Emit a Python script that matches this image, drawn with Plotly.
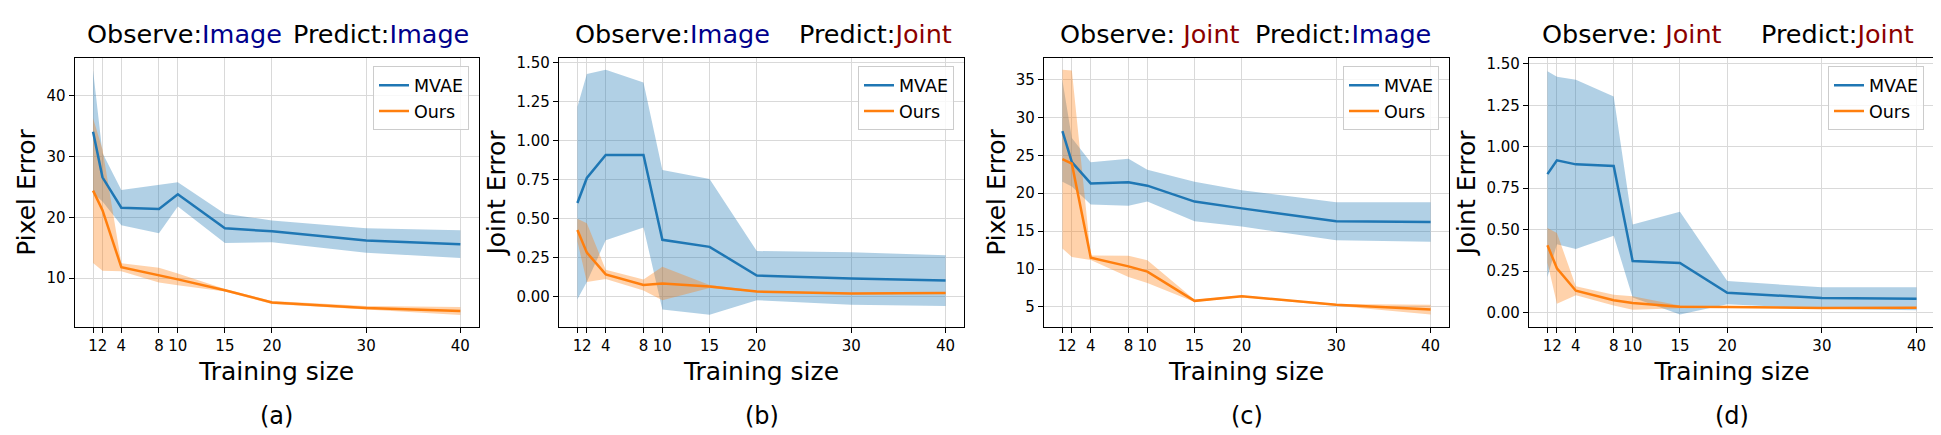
import plotly.graph_objects as go
from plotly.subplots import make_subplots

# training sizes shared by every panel
sizes = [1, 2, 4, 8, 10, 15, 20, 30, 40]

# (a) observe image, predict image
mvae_mean_a = [34.1, 26.6, 21.6, 21.4, 23.8, 18.2, 17.7, 16.2, 15.6]
mvae_std_a = [10.1, 4.0, 2.9, 4.0, 2.0, 2.4, 1.8, 2.0, 2.3]
ours_mean_a = [24.4, 21.2, 11.8, 10.5, 9.8, 8.0, 6.0, 5.1, 4.6]
ours_std_a = [11.9, 10.0, 0.65, 1.2, 0.95, 0.2, 0.25, 0.3, 0.65]

# (b) observe image, predict joint
mvae_mean_b = [0.60, 0.76, 0.907, 0.907, 0.365, 0.32, 0.136, 0.117, 0.104]
mvae_std_b = [0.615, 0.665, 0.545, 0.463, 0.446, 0.434, 0.157, 0.168, 0.162]
ours_mean_b = [0.428, 0.283, 0.144, 0.076, 0.086, 0.066, 0.034, 0.021, 0.025]
ours_std_b = [0.072, 0.188, 0.03, 0.035, 0.107, 0.01, 0.005, 0.004, 0.005]

# (c) observe joint, predict image
mvae_mean_c = [28.2, 24.1, 21.3, 21.45, 21.0, 18.9, 18.0, 16.3, 16.2]
mvae_std_c = [6.7, 3.2, 2.8, 3.1, 2.1, 2.6, 2.4, 2.5, 2.6]
ours_mean_c = [24.5, 23.9, 11.5, 10.35, 9.65, 5.8, 6.4, 5.3, 4.65]
ours_std_c = [11.8, 12.3, 0.3, 1.4, 1.5, 0.15, 0.1, 0.1, 0.65]

# (d) observe joint, predict joint
mvae_mean_d = [0.835, 0.918, 0.894, 0.884, 0.311, 0.299, 0.12, 0.088, 0.084]
mvae_std_d = [0.62, 0.505, 0.51, 0.42, 0.22, 0.31, 0.07, 0.065, 0.069]
ours_mean_d = [0.406, 0.267, 0.132, 0.075, 0.058, 0.035, 0.034, 0.028, 0.03]
ours_std_d = [0.105, 0.213, 0.027, 0.032, 0.04, 0.008, 0.004, 0.003, 0.003]

observe_labels = ["Image", "Image", "Joint", "Joint"]
predict_labels = ["Image", "Joint", "Image", "Joint"]
y_titles = ["Pixel Error", "Joint Error", "Pixel Error", "Joint Error"]
panel_tags = ["(a)", "(b)", "(c)", "(d)"]
y_ticks = [
    [10, 20, 30, 40],
    [0, 0.25, 0.5, 0.75, 1.0, 1.25, 1.5],
    [5, 10, 15, 20, 25, 30, 35],
    [0, 0.25, 0.5, 0.75, 1.0, 1.25, 1.5],
]

panels = [
    (mvae_mean_a, mvae_std_a, ours_mean_a, ours_std_a),
    (mvae_mean_b, mvae_std_b, ours_mean_b, ours_std_b),
    (mvae_mean_c, mvae_std_c, ours_mean_c, ours_std_c),
    (mvae_mean_d, mvae_std_d, ours_mean_d, ours_std_d),
]

W, H = 1941, 435
FONT = "DejaVu Sans"
BLUE = "#1f77b4"
ORANGE = "#ff7f0e"
WORD_COLOR = {"Image": "#00008b", "Joint": "#8b0000"}

# pixel positions of each axes box
x_px = [(66.7, 470.7), (551, 956), (1036, 1441), (1521, 1927)]
y_px = (46, 318.3)
y_ranges = [[1.9, 46.3], [-0.195, 1.53], [2.3, 37.9], [-0.089, 1.538]]
obs_left = [77, 565, 1050, 1532]
pred_right = [463, 946, 1425, 1908]
legend_right = [461, 946, 1431, 1916]
obs_sep = [":", ":", ": ", ": "]

fig = make_subplots(rows=1, cols=4)


def band(mean, std, sign):
    return [m + sign * s for m, s in zip(mean, std)]


for i, (mm, ms, om, os_) in enumerate(panels):
    col = i + 1
    leg = "legend" if i == 0 else "legend%d" % (i + 1)
    for mean, std, color, rgba in [(mm, ms, BLUE, "rgba(31,119,180,0.35)"),
                                   (om, os_, ORANGE, "rgba(255,127,14,0.35)")]:
        fig.add_trace(go.Scatter(x=sizes, y=band(mean, std, -1), mode="lines",
                                 line=dict(width=0, color=color), showlegend=False,
                                 hoverinfo="skip"), row=1, col=col)
        fig.add_trace(go.Scatter(x=sizes, y=band(mean, std, 1), mode="lines",
                                 line=dict(width=0, color=color), fill="tonexty",
                                 fillcolor=rgba, showlegend=False,
                                 hoverinfo="skip"), row=1, col=col)
    fig.add_trace(go.Scatter(x=sizes, y=mm, mode="lines", name="MVAE",
                             line=dict(color=BLUE, width=2.5), legend=leg), row=1, col=col)
    fig.add_trace(go.Scatter(x=sizes, y=om, mode="lines", name="Ours",
                             line=dict(color=ORANGE, width=2.5), legend=leg), row=1, col=col)

    x0, x1 = x_px[i]
    axis_common = dict(showline=True, linecolor="black", linewidth=1.2, mirror=True,
                       ticks="outside", tickcolor="black", ticklen=5, tickwidth=1,
                       showgrid=True, gridcolor="#d9d9d9", gridwidth=1, zeroline=False,
                       tickangle=0,
                       tickfont=dict(family=FONT, size=15, color="black"))
    fig.update_xaxes(domain=[x0 / W, x1 / W], range=[-0.95, 41.95],
                     tickvals=sizes, ticktext=[str(s) for s in sizes],
                     title=dict(text="Training size", standoff=8,
                                font=dict(family=FONT, size=25, color="black")),
                     row=1, col=col, **axis_common)
    fig.update_yaxes(domain=[1 - y_px[1] / H, 1 - y_px[0] / H], range=y_ranges[i],
                     tickvals=y_ticks[i],
                     tickformat=".2f" if i in (1, 3) else "d",
                     title=dict(text=y_titles[i], standoff=3,
                                font=dict(family=FONT, size=25, color="black")),
                     row=1, col=col, **axis_common)

    fig.update_layout({leg: dict(x=legend_right[i] / W, y=1 - 55 / H,
                                 xanchor="right", yanchor="top", traceorder="normal",
                                 bgcolor="rgba(255,255,255,0.8)", bordercolor="#cccccc",
                                 borderwidth=1, font=dict(family=FONT, size=17.5, color="black"))})

    o = observe_labels[i]
    p = predict_labels[i]
    fig.add_annotation(xref="paper", yref="paper", x=obs_left[i] / W, y=1 - 22 / H,
                       xanchor="left", yanchor="middle", showarrow=False,
                       text="Observe%s<span style='color:%s'>%s</span>" % (obs_sep[i], WORD_COLOR[o], o),
                       font=dict(family=FONT, size=25.5, color="black"))
    fig.add_annotation(xref="paper", yref="paper", x=pred_right[i] / W, y=1 - 22 / H,
                       xanchor="right", yanchor="middle", showarrow=False,
                       text="Predict:<span style='color:%s'>%s</span>" % (WORD_COLOR[p], p),
                       font=dict(family=FONT, size=25.5, color="black"))
    fig.add_annotation(xref="paper", yref="paper", x=(x0 + x1) / 2 / W, y=1 - 408 / H,
                       xanchor="center", yanchor="middle", showarrow=False,
                       text=panel_tags[i], font=dict(family=FONT, size=24, color="black"))

fig.update_layout(width=W, height=H, margin=dict(l=0, r=0, t=0, b=0),
                  paper_bgcolor="white", plot_bgcolor="white",
                  font=dict(family=FONT, color="black"))

fig.write_html("out.html")
